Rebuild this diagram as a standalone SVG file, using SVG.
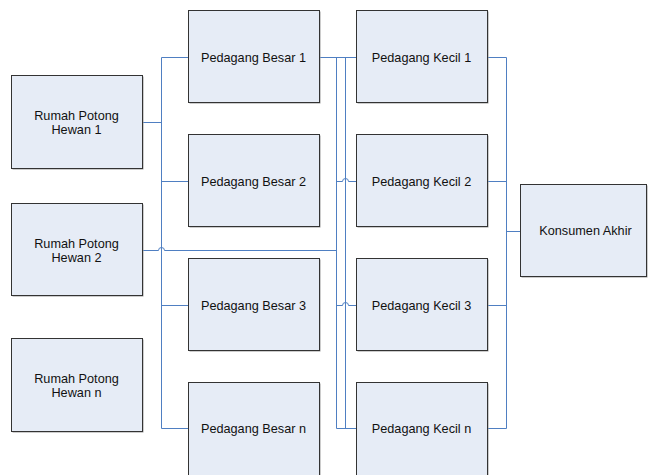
<svg xmlns="http://www.w3.org/2000/svg" width="648" height="475" viewBox="0 0 648 475">
<style>
.box{fill:#e6ecf6;stroke:#333333;stroke-width:1}
.sh{fill:#9a9a9a}
.t{font-family:"Liberation Sans",Arial,sans-serif;font-size:12.7px;fill:#111111;text-anchor:middle}
.c{fill:none;stroke:#4f7fc2;stroke-width:1}
</style>
<rect width="648" height="475" fill="#ffffff"/>
<g id="connectors">
<path class="c" d="M142,122.5 H161.5"/>
<path class="c" d="M161.5,57.5 V428.5"/>
<path class="c" d="M161.5,57.5 H188 M161.5,181.5 H188 M161.5,305.5 H188 M161.5,428.5 H188"/>
<path class="c" d="M142,250.5 H158.5 A3,3 0 0 1 164.5,250.5 H336.5"/>
<path class="c" d="M319,57.5 H356"/>
<path class="c" d="M336.5,57.5 V428.5 M345.5,57.5 V428.5"/>
<path class="c" d="M336.5,181.5 H342.5 A3,3 0 0 1 348.5,181.5 H356"/>
<path class="c" d="M336.5,305.5 H342.5 A3,3 0 0 1 348.5,305.5 H356"/>
<path class="c" d="M336.5,428.5 H356"/>
<path class="c" d="M487,57.5 H506.5 M487,181.5 H506.5 M487,305.5 H506.5 M487,428.5 H506.5"/>
<path class="c" d="M506.5,57.5 V428.5"/>
<path class="c" d="M506.5,231.5 H520"/>
</g>
<g id="rph1">
<rect class="sh" x="12.5" y="76.5" width="131" height="93"/>
<rect class="box" x="11.5" y="75.5" width="131" height="93"/>
<text class="t" x="76.5" y="120">Rumah Potong</text>
<text class="t" x="76.5" y="134">Hewan 1</text>
</g>
<g id="rph2">
<rect class="sh" x="12.5" y="204.5" width="131" height="92"/>
<rect class="box" x="11.5" y="203.5" width="131" height="92"/>
<text class="t" x="76.5" y="247.5">Rumah Potong</text>
<text class="t" x="76.5" y="261.5">Hewan 2</text>
</g>
<g id="rphn">
<rect class="sh" x="12.5" y="339.5" width="131" height="93"/>
<rect class="box" x="11.5" y="338.5" width="131" height="93"/>
<text class="t" x="76.5" y="383">Rumah Potong</text>
<text class="t" x="76.5" y="397">Hewan n</text>
</g>
<g id="pb1">
<rect class="sh" x="189.5" y="11.5" width="131" height="92"/>
<rect class="box" x="188.5" y="10.5" width="131" height="92"/>
<text class="t" x="253.5" y="61.5">Pedagang Besar 1</text>
</g>
<g id="pb2">
<rect class="sh" x="189.5" y="135.5" width="131" height="92"/>
<rect class="box" x="188.5" y="134.5" width="131" height="92"/>
<text class="t" x="253.5" y="185.5">Pedagang Besar 2</text>
</g>
<g id="pb3">
<rect class="sh" x="189.5" y="259.5" width="131" height="92"/>
<rect class="box" x="188.5" y="258.5" width="131" height="92"/>
<text class="t" x="253.5" y="309.5">Pedagang Besar 3</text>
</g>
<g id="pbn">
<rect class="sh" x="189.5" y="383.5" width="131" height="93"/>
<rect class="box" x="188.5" y="382.5" width="131" height="93"/>
<text class="t" x="253.5" y="433">Pedagang Besar n</text>
</g>
<g id="pk1">
<rect class="sh" x="357.5" y="11.5" width="131" height="92"/>
<rect class="box" x="356.5" y="10.5" width="131" height="92"/>
<text class="t" x="421.5" y="61.5">Pedagang Kecil 1</text>
</g>
<g id="pk2">
<rect class="sh" x="357.5" y="135.5" width="131" height="92"/>
<rect class="box" x="356.5" y="134.5" width="131" height="92"/>
<text class="t" x="421.5" y="185.5">Pedagang Kecil 2</text>
</g>
<g id="pk3">
<rect class="sh" x="357.5" y="259.5" width="131" height="92"/>
<rect class="box" x="356.5" y="258.5" width="131" height="92"/>
<text class="t" x="421.5" y="309.5">Pedagang Kecil 3</text>
</g>
<g id="pkn">
<rect class="sh" x="357.5" y="383.5" width="131" height="93"/>
<rect class="box" x="356.5" y="382.5" width="131" height="93"/>
<text class="t" x="421.5" y="433">Pedagang Kecil n</text>
</g>
<g id="konsumen">
<rect class="sh" x="521.5" y="185.5" width="126" height="92"/>
<rect class="box" x="520.5" y="184.5" width="126" height="92"/>
<text class="t" x="585.5" y="234.5">Konsumen Akhir</text>
</g>
</svg>
